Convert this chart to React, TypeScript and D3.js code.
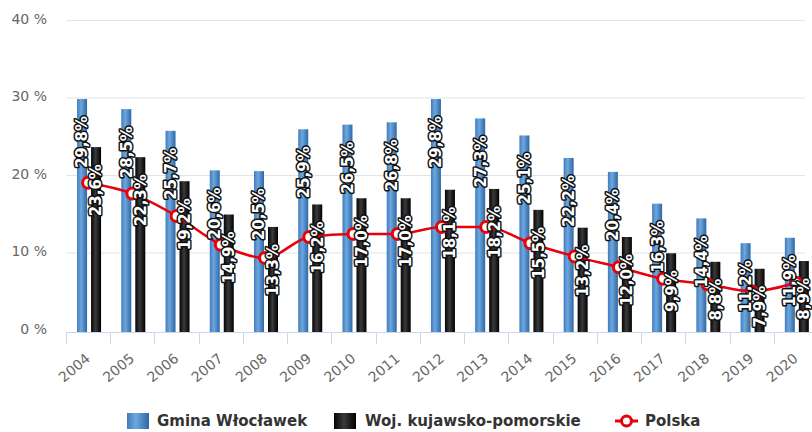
import { useEffect, useRef } from 'react';
import * as d3 from 'd3';

const years = ['2004', '2005', '2006', '2007', '2008', '2009', '2010', '2011', '2012', '2013', '2014', '2015', '2016', '2017', '2018', '2019', '2020'];
const gmina = [29.8, 28.5, 25.7, 20.6, 20.5, 25.9, 26.5, 26.8, 29.8, 27.3, 25.1, 22.2, 20.4, 16.3, 14.4, 11.2, 11.9];
const woj = [23.6, 22.3, 19.2, 14.9, 13.3, 16.2, 17.0, 17.0, 18.1, 18.2, 15.5, 13.2, 12.0, 9.9, 8.8, 7.9, 8.9];
const polska = [19.0, 17.6, 14.7, 11.0, 9.3, 12.0, 12.4, 12.4, 13.3, 13.3, 11.2, 9.5, 8.1, 6.6, 5.9, 5.0, 6.1];
const yTicks = [0, 10, 20, 30, 40];
const seriesNames = ['Gmina Włocławek', 'Woj. kujawsko-pomorskie', 'Polska'];

const W = 812;
const H = 432;
const fmt = (v: number) => v.toFixed(1).replace('.', ',') + '%';

export default function App() {
  const svgRef = useRef<SVGSVGElement>(null);

  useEffect(() => {
    if (!svgRef.current) return;
    const svg = d3.select(svgRef.current);
    svg.selectAll('*').remove();

    const left = 66;
    const right = 818;
    const top = 20;
    const bottom = 330;
    const gridEnd = 805;

    const defs = svg.append('defs');
    const blue = defs.append('linearGradient').attr('id', 'gBlue').attr('x1', 0).attr('x2', 1).attr('y1', 0).attr('y2', 0);
    blue.append('stop').attr('offset', '0%').attr('stop-color', '#3f7cbd');
    blue.append('stop').attr('offset', '40%').attr('stop-color', '#6ea7dd');
    blue.append('stop').attr('offset', '100%').attr('stop-color', '#2d67a6');
    const black = defs.append('linearGradient').attr('id', 'gBlack').attr('x1', 0).attr('x2', 1).attr('y1', 0).attr('y2', 0);
    black.append('stop').attr('offset', '0%').attr('stop-color', '#050505');
    black.append('stop').attr('offset', '45%').attr('stop-color', '#3a3a3a');
    black.append('stop').attr('offset', '100%').attr('stop-color', '#000000');

    const x0 = d3.scaleBand<string>().domain(years).range([left, right]).padding(0);
    const step = x0.bandwidth();
    const x1 = d3.scaleBand<string>().domain(['g', 'w']).range([step * 0.25, step * 0.25 + 24]).paddingInner(4 / 14);
    const y = d3.scaleLinear().domain([0, 40]).range([bottom, top]);

    // Grid + y labels
    const grid = svg.append('g');
    grid.selectAll('line')
      .data(yTicks.filter((t) => t > 0))
      .join('line')
      .attr('x1', left).attr('x2', gridEnd)
      .attr('y1', (d) => y(d) + 0.5).attr('y2', (d) => y(d) + 0.5)
      .attr('stroke', '#e3e3e3');
    grid.selectAll('text')
      .data(yTicks)
      .join('text')
      .attr('x', 47)
      .attr('y', (d) => y(d) - 1)
      .attr('dy', '0.35em')
      .attr('text-anchor', 'end')
      .attr('fill', '#666')
      .attr('font-family', 'DejaVu Sans')
      .attr('font-size', 14)
      .text((d) => `${d} %`);

    // X axis
    svg.append('line')
      .attr('x1', left).attr('x2', W)
      .attr('y1', bottom + 2.5).attr('y2', bottom + 2.5)
      .attr('stroke', '#ccd6eb');
    svg.append('g')
      .selectAll('line')
      .data(years)
      .join('line')
      .attr('x1', (d) => Math.round(x0(d)!) + 0.5)
      .attr('x2', (d) => Math.round(x0(d)!) + 0.5)
      .attr('y1', bottom + 3).attr('y2', bottom + 14)
      .attr('stroke', '#ccd6eb');
    svg.append('g')
      .selectAll('text')
      .data(years)
      .join('text')
      .attr('transform', (d) => `translate(${x0(d)! + step / 2 + 3},${bottom + 30}) rotate(-40)`)
      .attr('text-anchor', 'end')
      .attr('fill', '#666')
      .attr('font-family', 'DejaVu Sans')
      .attr('font-size', 14)
      .text((d) => d);

    // Bars
    const bars = svg.append('g');
    bars.selectAll('.g')
      .data(years)
      .join('rect')
      .attr('x', (d) => x0(d)! + x1('g')!)
      .attr('y', (_, i) => y(gmina[i]))
      .attr('width', x1.bandwidth())
      .attr('height', (_, i) => bottom + 2 - y(gmina[i]))
      .attr('fill', 'url(#gBlue)');
    bars.selectAll('.w')
      .data(years)
      .join('rect')
      .attr('x', (d) => x0(d)! + x1('w')!)
      .attr('y', (_, i) => y(woj[i]))
      .attr('width', x1.bandwidth())
      .attr('height', (_, i) => bottom + 2 - y(woj[i]))
      .attr('fill', 'url(#gBlack)');

    // Polska line
    const line = d3.line<number>()
      .x((_, i) => x0(years[i])! + step / 2)
      .y((d) => y(d))
      .curve(d3.curveMonotoneX);
    svg.append('path')
      .datum(polska)
      .attr('d', line)
      .attr('fill', 'none')
      .attr('stroke', '#e8000b')
      .attr('stroke-width', 2.5);
    svg.append('g')
      .selectAll('circle')
      .data(polska)
      .join('circle')
      .attr('cx', (_, i) => x0(years[i])! + step / 2)
      .attr('cy', (d) => y(d))
      .attr('r', 5.5)
      .attr('fill', '#fff')
      .attr('stroke', '#e8000b')
      .attr('stroke-width', 3);

    // Data labels
    const addLabels = (vals: number[], key: string) => {
      svg.append('g')
        .selectAll('text')
        .data(vals)
        .join('text')
        .attr('transform', (d, i) => `translate(${x0(years[i])! + x1(key)! + x1.bandwidth() / 2},${y(d) + 17}) rotate(-90)`)
        .attr('text-anchor', 'end')
        .attr('dy', '0.36em')
        .attr('fill', '#fff')
        .attr('stroke', '#111')
        .attr('stroke-width', 3)
        .attr('stroke-linejoin', 'round')
        .attr('paint-order', 'stroke')
        .attr('font-family', 'DejaVu Sans')
        .attr('font-weight', 'bold')
        .attr('font-size', 15)
        .text((d) => fmt(d));
    };
    addLabels(gmina, 'g');
    addLabels(woj, 'w');

    // Legend
    const lg = svg.append('g').attr('font-family', 'DejaVu Sans').attr('font-weight', 'bold').attr('font-size', 15).attr('fill', '#333');
    lg.append('rect').attr('x', 127).attr('y', 413).attr('width', 22).attr('height', 16).attr('fill', 'url(#gBlue)');
    lg.append('text').attr('x', 157).attr('y', 426).text(seriesNames[0]);
    lg.append('rect').attr('x', 334).attr('y', 413).attr('width', 22).attr('height', 16).attr('fill', 'url(#gBlack)');
    lg.append('text').attr('x', 365).attr('y', 426).text(seriesNames[1]);
    lg.append('line').attr('x1', 615).attr('x2', 638).attr('y1', 421).attr('y2', 421).attr('stroke', '#e8000b').attr('stroke-width', 3);
    lg.append('circle').attr('cx', 626.5).attr('cy', 421).attr('r', 5).attr('fill', '#fff').attr('stroke', '#e8000b').attr('stroke-width', 3);
    lg.append('text').attr('x', 645).attr('y', 426).text(seriesNames[2]);
  }, []);

  return (
    <div style={{ position: 'absolute', left: 0, top: 0, width: W, height: H, background: '#fff' }}>
      <svg ref={svgRef} width={W} height={H} style={{ display: 'block' }} />
    </div>
  );
}
